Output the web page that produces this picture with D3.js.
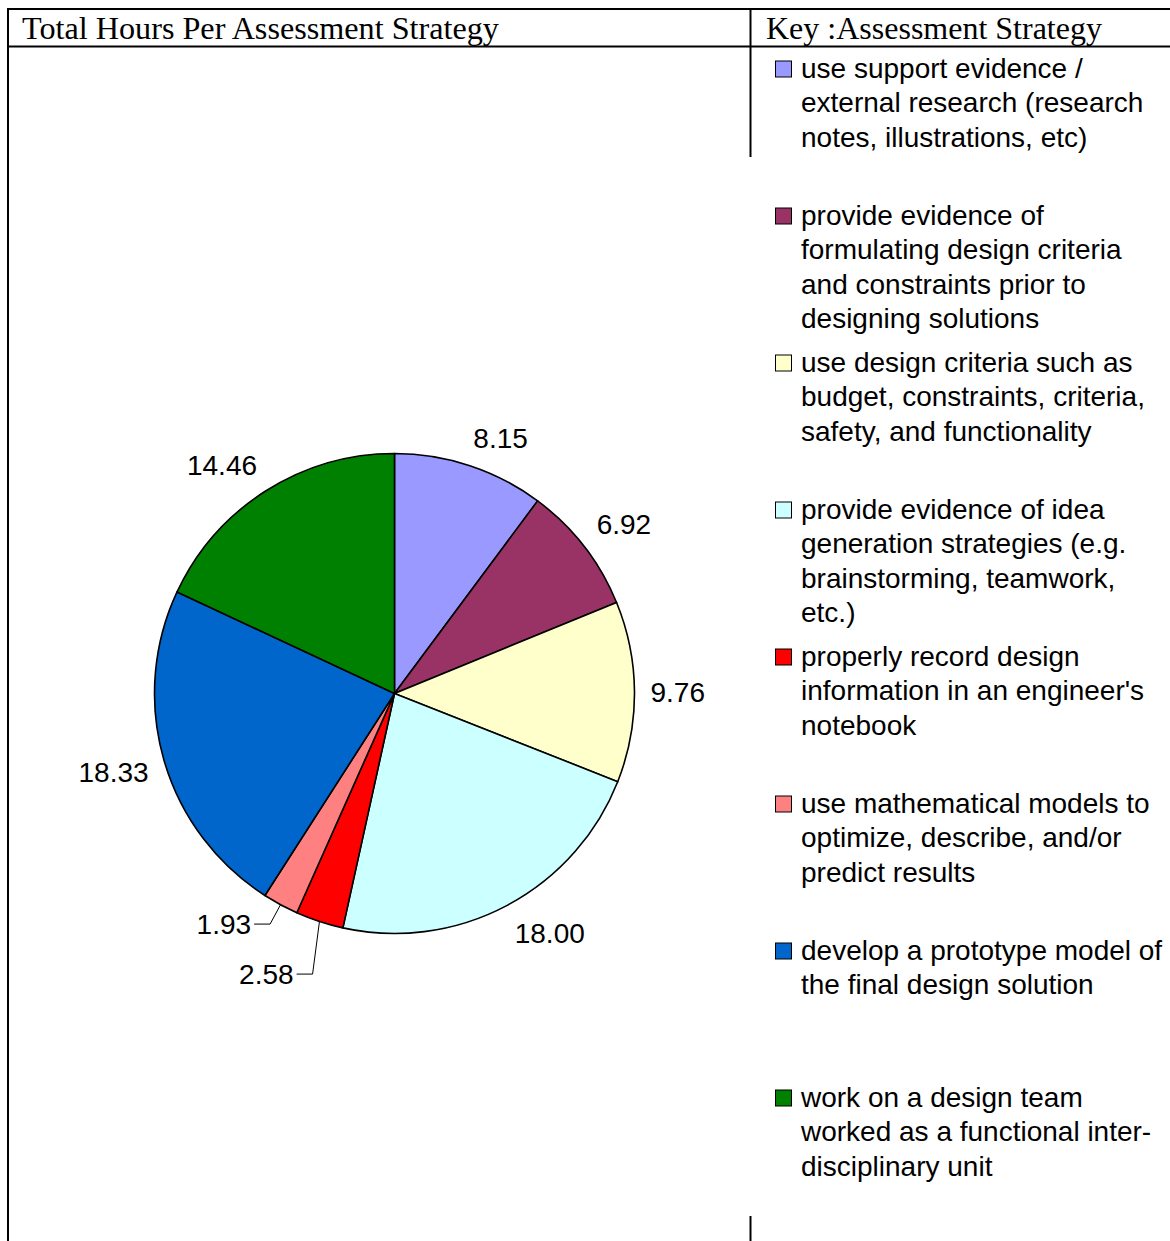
<!DOCTYPE html>
<html>
<head>
<meta charset="utf-8">
<script src="https://cdn.jsdelivr.net/npm/d3@7"></script>
<style>
  body { margin: 0; background: #fff; }
  svg { display: block; }
</style>
</head>
<body>
<svg id="chart" width="1170" height="1241"></svg>
<script>
// Hours logged for each assessment strategy (clockwise from 12 o'clock)
const hours = [8.15, 6.92, 9.76, 18.00, 2.58, 1.93, 18.33, 14.46];

// Legend text, one array of wrapped lines per strategy
const strategies = [
  ["use support evidence /", "external research (research", "notes, illustrations, etc)"],
  ["provide evidence of", "formulating design criteria", "and constraints prior to", "designing solutions"],
  ["use design criteria such as", "budget, constraints, criteria,", "safety, and functionality"],
  ["provide evidence of idea", "generation strategies (e.g.", "brainstorming, teamwork,", "etc.)"],
  ["properly record design", "information in an engineer's", "notebook"],
  ["use mathematical models to", "optimize, describe, and/or", "predict results"],
  ["develop a prototype model of", "the final design solution"],
  ["work on a design team", "worked as a functional inter-", "disciplinary unit"]
];

const sliceColors = ["#9999FF", "#993366", "#FFFFCC", "#CCFFFF", "#FF0000", "#FF8080", "#0066CC", "#008000"];

const titleLeft = "Total Hours Per Assessment Strategy";
const titleRight = "Key :Assessment Strategy";

const svg = d3.select("#chart");
const serif = "'Liberation Serif', 'Times New Roman', serif";
const sans = "'Liberation Sans', Arial, sans-serif";

// ---- table-style frame ----
const frame = svg.append("g").attr("stroke", "#000").attr("stroke-width", 2).attr("fill", "none");
frame.append("line").attr("x1", 8).attr("x2", 1170).attr("y1", 9).attr("y2", 9);
frame.append("line").attr("x1", 8).attr("x2", 1170).attr("y1", 46.5).attr("y2", 46.5);
frame.append("line").attr("x1", 8).attr("x2", 8).attr("y1", 8).attr("y2", 1241);
frame.append("line").attr("x1", 750.5).attr("x2", 750.5).attr("y1", 9).attr("y2", 157);
frame.append("line").attr("x1", 750.5).attr("x2", 750.5).attr("y1", 1216).attr("y2", 1241);

svg.append("text").attr("x", 22).attr("y", 39)
  .attr("font-family", serif).attr("font-size", 32.2).attr("fill", "#000")
  .text(titleLeft);
svg.append("text").attr("x", 766).attr("y", 39)
  .attr("font-family", serif).attr("font-size", 32).attr("fill", "#000")
  .text(titleRight);

// ---- pie ----
const cx = 394.5, cy = 693.5, r = 240;
const pie = d3.pie().sort(null).value(d => d).startAngle(0).endAngle(2 * Math.PI);
const arcs = pie(hours);
const arc = d3.arc().innerRadius(0).outerRadius(r);
const color = d3.scaleOrdinal().domain(d3.range(hours.length)).range(sliceColors);

const g = svg.append("g").attr("transform", `translate(${cx},${cy})`);
g.selectAll("path.slice").data(arcs).join("path")
  .attr("class", "slice")
  .attr("d", arc)
  .attr("fill", (d, i) => color(i))
  .attr("stroke", "#000")
  .attr("stroke-width", 1.6)
  .attr("stroke-linejoin", "round");

const polar = (a, R) => [R * Math.sin(a), -R * Math.cos(a)];
const fmt = d3.format(".2f");
const clamp = v => Math.max(-1, Math.min(1, v));
const labelFont = 28;
const boxH = 26;

// measure label widths
const probe = svg.append("text").attr("font-family", sans).attr("font-size", labelFont);
const labels = arcs.map((d, i) => {
  probe.text(fmt(d.data));
  const w = probe.node().getComputedTextLength();
  const mid = (d.startAngle + d.endAngle) / 2;
  return { i, d, w, mid, small: d.data < 3 };
});
probe.remove();

// ordinary labels: box corner sits just outside the rim at the mid-angle
labels.filter(l => !l.small).forEach(l => {
  const [px, py] = polar(l.mid, r + 16);
  l.x = px + (l.w / 2) * clamp(Math.sin(l.mid) * 3);
  l.y = py - (boxH / 2) * clamp(Math.cos(l.mid) * 2);
  l.anchor = "middle";
});

// thin slices: right-aligned labels with elbow leaders, stacked so they don't collide
const small = labels.filter(l => l.small);
small.forEach(l => {
  const [ex, ey] = polar(l.mid, r + 22);
  l.ex = ex; l.ey = ey;
});
small.sort((a, b) => a.ey - b.ey);
for (let k = 1; k < small.length; k++) {
  if (small[k].ey < small[k - 1].ey + 50) small[k].ey = small[k - 1].ey + 50;
}
small.forEach(l => {
  const [ax, ay] = polar(l.mid, r);
  l.leader = [[ax, ay], [l.ex, l.ey], [l.ex - 16, l.ey]];
  l.x = l.ex - 19;
  l.y = l.ey;
  l.anchor = "end";
});

g.selectAll("path.leader").data(small).join("path")
  .attr("class", "leader")
  .attr("d", l => d3.line()(l.leader))
  .attr("fill", "none").attr("stroke", "#000").attr("stroke-width", 1);

g.selectAll("text.val").data(labels).join("text")
  .attr("class", "val")
  .attr("x", l => l.x).attr("y", l => l.y).attr("dy", "0.36em")
  .attr("text-anchor", l => l.anchor)
  .attr("font-family", sans).attr("font-size", labelFont).attr("fill", "#000")
  .text(l => fmt(l.d.data));

// ---- legend ----
const legendY = d3.scaleLinear().domain([0, strategies.length - 1]).range([69, 1098]);
const lineGap = 34.4;
const lg = svg.append("g");
const item = lg.selectAll("g.item").data(strategies).join("g")
  .attr("class", "item")
  .attr("transform", (d, i) => `translate(0,${legendY(i)})`);
item.append("rect")
  .attr("x", 775.5).attr("y", -8).attr("width", 16).attr("height", 16)
  .attr("fill", (d, i) => color(i)).attr("stroke", "#000").attr("stroke-width", 1);
item.append("text")
  .attr("font-family", sans).attr("font-size", labelFont).attr("fill", "#000")
  .selectAll("tspan").data(d => d).join("tspan")
  .attr("x", 801).attr("y", (t, j) => 9 + j * lineGap)
  .text(t => t);
</script>
</body>
</html>
